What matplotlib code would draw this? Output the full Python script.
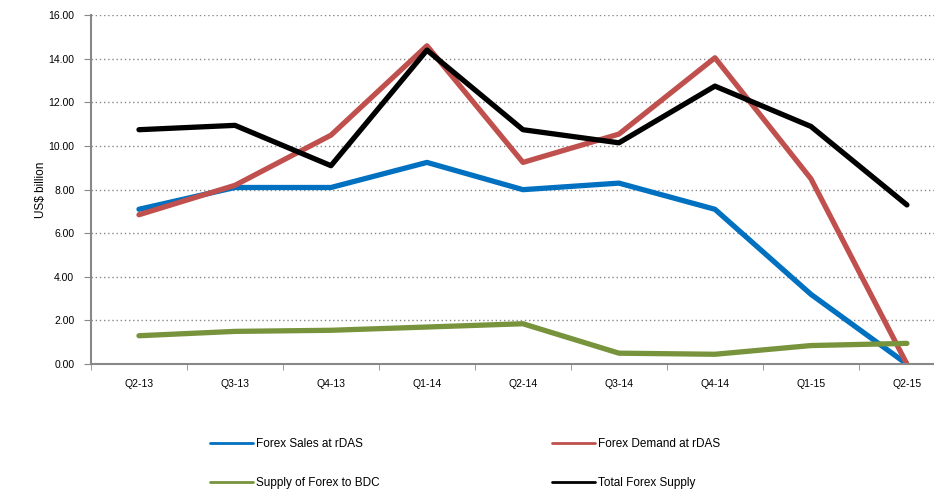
import matplotlib.pyplot as plt
from matplotlib.ticker import FixedLocator, FormatStrFormatter

quarters = ["Q2-13", "Q3-13", "Q4-13", "Q1-14", "Q2-14", "Q3-14", "Q4-14", "Q1-15", "Q2-15"]
forex_sales = [7.1, 8.1, 8.1, 9.25, 8.0, 8.3, 7.1, 3.2, 0.0]
forex_demand = [6.85, 8.2, 10.5, 14.6, 9.25, 10.55, 14.05, 8.5, 0.0]
bdc_supply = [1.3, 1.5, 1.55, 1.7, 1.85, 0.5, 0.45, 0.85, 0.95]
total_supply = [10.75, 10.95, 9.1, 14.4, 10.75, 10.15, 12.75, 10.9, 7.3]

plt.rcParams['font.family'] = ['Liberation Sans', 'DejaVu Sans']

fig = plt.figure(figsize=(9.34, 4.92), dpi=100)
ax = fig.add_axes([0.0974, 0.260, 0.925, 0.709])

x = range(len(quarters))
lw = 3.8
l1, = ax.plot(x, forex_sales, color="#0070C0", lw=lw, solid_capstyle="round", label="Forex Sales at rDAS")
l2, = ax.plot(x, forex_demand, color="#C0504D", lw=lw, solid_capstyle="round", label="Forex Demand at rDAS")
l3, = ax.plot(x, bdc_supply, color="#77933C", lw=lw, solid_capstyle="round", label="Supply of Forex to BDC")
l4, = ax.plot(x, total_supply, color="black", lw=lw, solid_capstyle="round", label="Total Forex Supply")

ax.set_xlim(-0.5, len(quarters) - 0.5)
ax.set_ylim(0, 16)
ax.set_yticks(range(0, 17, 2))
ax.yaxis.set_major_formatter(FormatStrFormatter("%.2f"))
ax.set_xticks(list(x))
ax.set_xticklabels(quarters)
ax.xaxis.set_minor_locator(FixedLocator([i - 0.5 for i in range(len(quarters) + 1)]))
ax.tick_params(axis="x", which="major", length=0, pad=11, labelsize=7.5)
ax.tick_params(axis="x", which="minor", length=4, color="#888888", direction="out")
ax.tick_params(axis="y", length=5, color="#888888", labelsize=7.5, pad=7)

ax.grid(axis="y", linestyle=(0, (1, 2)), color="#888888", lw=1)
ax.set_axisbelow(True)
for s in ["top", "right"]:
    ax.spines[s].set_visible(False)
for s in ["left", "bottom"]:
    ax.spines[s].set_color("#888888")
    ax.spines[s].set_linewidth(1.5)

ax.set_ylabel("US$ billion", fontsize=8.5, labelpad=1)

fig.legend(handles=[l1, l3, l2, l4], loc="upper left", bbox_to_anchor=(0.225, 0.11),
           ncol=2, frameon=False, fontsize=8.5, handlelength=3.6, handletextpad=0.3,
           columnspacing=14.6, labelspacing=2.3, borderpad=0, borderaxespad=0)
for h in fig.legends[0].legend_handles:
    h.set_linewidth(2)

fig.savefig("out.png", dpi=100)
